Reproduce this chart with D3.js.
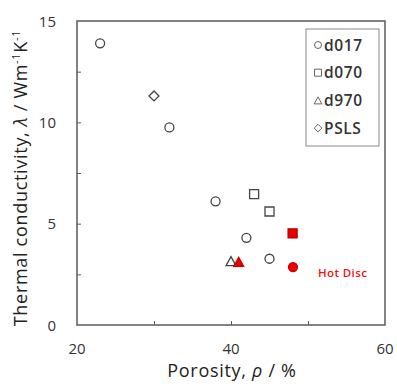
<!DOCTYPE html>
<html><head><meta charset="utf-8">
<script src="https://cdn.jsdelivr.net/npm/d3@7"></script>
<style>body{margin:0;background:#fff;} text{font-family:"Open Sans", "Noto Sans", sans-serif;}</style>
</head><body>
<svg id="c" width="397" height="388"></svg>
<script>
// Data
const d017X = [23, 32, 38, 42, 45];
const d017Y = [13.9, 9.75, 6.1, 4.3, 3.27];
const d070X = [43, 45];
const d070Y = [6.46, 5.6];
const d970X = [40];
const d970Y = [3.15];
const pslsX = [30];
const pslsY = [11.3];
const hotCircleX = [48.05], hotCircleY = [2.86];
const hotSquareX = [48.0], hotSquareY = [4.52];
const hotTriangleX = [41.0], hotTriangleY = [3.12];
const xTickLabels = [20, 40, 60];
const yTickLabels = [0, 5, 10, 15];
const xMinorTicks = [30, 40, 50];
const yMinorTicks = [2.5, 5, 7.5, 10, 12.5];
const legendNames = ["d017", "d070", "d970", "PSLS"];

const svg = d3.select("#c");
const L = 77, T = 21, R = 385, B = 325;
const x = d3.scaleLinear().domain([20, 60]).range([L, R]);
const y = d3.scaleLinear().domain([0, 15]).range([B, T]);
const axisCol = "#5a5a5a", markCol = "#444";

// frame
svg.append("rect").attr("x", L).attr("y", T).attr("width", R - L).attr("height", B - T)
  .attr("fill", "none").attr("stroke", axisCol).attr("stroke-width", 1.5);

// ticks (inside)
const xa = d3.axisBottom(x).tickValues(xMinorTicks).tickSize(-4).tickFormat("");
svg.append("g").attr("transform", `translate(0,${B})`).call(xa)
  .call(g => { g.select(".domain").remove(); g.selectAll("line").attr("stroke", axisCol); });
const ya = d3.axisLeft(y).tickValues(yMinorTicks).tickSize(-4).tickFormat("");
svg.append("g").attr("transform", `translate(${L},0)`).call(ya)
  .call(g => { g.select(".domain").remove(); g.selectAll("line").attr("stroke", axisCol); });

svg.append("g").selectAll("text").data(xTickLabels).join("text")
  .attr("x", d => x(d)).attr("y", 354).attr("text-anchor", "middle")
  .attr("font-size", 15).attr("fill", "#333").text(d => d);
svg.append("g").selectAll("text").data(yTickLabels).join("text")
  .attr("x", 56).attr("y", d => y(d) + 5.5).attr("text-anchor", "end")
  .attr("font-size", 15).attr("fill", "#333").text(d => d);

// axis titles
const xt = svg.append("text").attr("x", 232).attr("y", 377).attr("text-anchor", "middle")
  .attr("font-size", 18).attr("letter-spacing", 0.7).attr("fill", "#222");
xt.append("tspan").text("Porosity, ");
xt.append("tspan").attr("font-style", "italic").text("ρ");
xt.append("tspan").text(" / %");

const yt = svg.append("text").attr("transform", "translate(27,178) rotate(-90)")
  .attr("text-anchor", "middle").attr("font-size", 18).attr("letter-spacing", 0.7).attr("fill", "#222");
yt.append("tspan").text("Thermal conductivity, ");
yt.append("tspan").attr("font-style", "italic").text("λ");
yt.append("tspan").text(" / Wm");
yt.append("tspan").attr("font-size", 11).attr("dy", -7).text("-1");
yt.append("tspan").attr("dy", 7).text("K");
yt.append("tspan").attr("font-size", 11).attr("dy", -7).text("-1");

// marker path generators (centred bounding boxes)
function shapePath(kind, s) {
  const h = s / 2;
  if (kind === "circle") return `M${-h},0A${h},${h} 0 1,0 ${h},0A${h},${h} 0 1,0 ${-h},0Z`;
  if (kind === "square") return `M${-h},${-h}H${h}V${h}H${-h}Z`;
  if (kind === "triangle") return `M0,${-h}L${h * 1.1},${h}L${-h * 1.1},${h}Z`;
  if (kind === "diamond") return `M0,${-h * 1.1}L${h * 1.1},0L0,${h * 1.1}L${-h * 1.1},0Z`;
}
function drawSeries(xs, ys, kind, size, fill, stroke) {
  svg.append("g").selectAll("path").data(xs.map((v, i) => [v, ys[i]])).join("path")
    .attr("transform", d => `translate(${x(d[0])},${y(d[1])})`)
    .attr("d", shapePath(kind, size))
    .attr("fill", fill).attr("stroke", stroke).attr("stroke-width", 1.3);
}
drawSeries(d017X, d017Y, "circle", 9, "#fff", markCol);
drawSeries(d070X, d070Y, "square", 9, "#fff", markCol);
drawSeries(d970X, d970Y, "triangle", 9, "#fff", markCol);
drawSeries(pslsX, pslsY, "diamond", 9, "#fff", markCol);
drawSeries(hotCircleX, hotCircleY, "circle", 9, "#ee0000", "#cc0000");
drawSeries(hotSquareX, hotSquareY, "square", 9, "#ee0000", "#b00000");
drawSeries(hotTriangleX, hotTriangleY, "triangle", 9, "#ee0000", "#cc0000");

svg.append("text").attr("x", 318).attr("y", 276.5).attr("font-size", 11.5).attr("letter-spacing", 0.4)
  .attr("font-weight", "600").attr("fill", "#ee1111").text("Hot Disc");

// legend
svg.append("rect").attr("x", 306).attr("y", 29).attr("width", 73).attr("height", 117)
  .attr("fill", "#fff").attr("stroke", "#8a8a8a").attr("stroke-width", 1);
const kinds = ["circle", "square", "triangle", "diamond"];
const lg = svg.append("g").selectAll("g").data(legendNames).join("g")
  .attr("transform", (d, i) => `translate(318,${45 + i * 27.7})`);
lg.append("path").attr("d", (d, i) => shapePath(kinds[i], 7))
  .attr("fill", "#fff").attr("stroke", "#666").attr("stroke-width", 1);
lg.append("text").attr("x", 6).attr("y", 5.5).attr("font-size", 15.5).attr("font-weight", "600")
  .attr("letter-spacing", 0.6).attr("fill", "#333").text(d => d);
</script>
</body></html>
